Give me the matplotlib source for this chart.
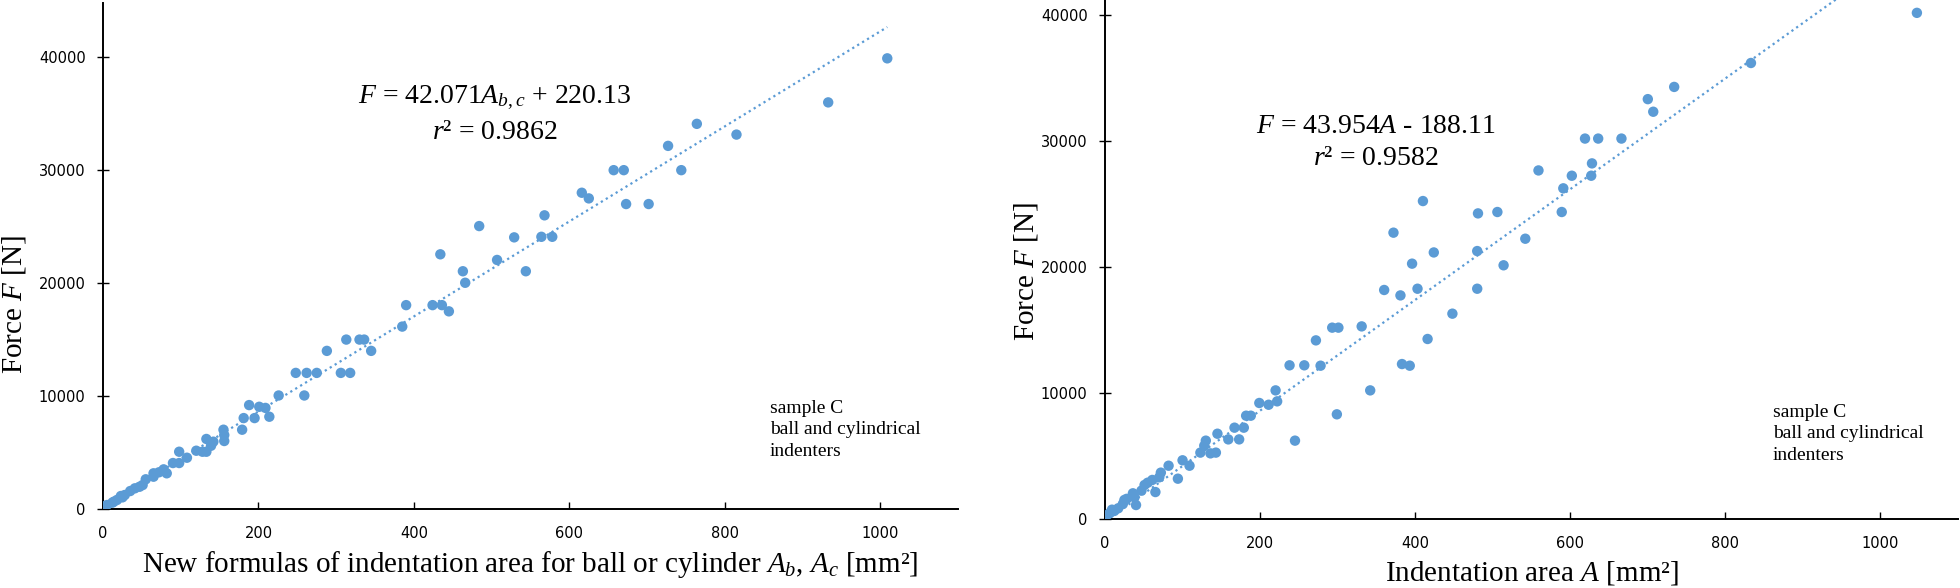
import numpy as np
import matplotlib
matplotlib.use("Agg")
import matplotlib.pyplot as plt

plt.rcParams['mathtext.fontset'] = 'custom'
plt.rcParams['mathtext.rm'] = 'Liberation Serif'
plt.rcParams['mathtext.it'] = 'Liberation Serif:italic'

BLUE = '#5B9BD5'

# left panel: new formulas of indentation area (A_b, A_c) vs force
left_x = [1009, 933, 764, 815, 727, 657, 670, 744, 616, 625, 673, 702, 568, 564, 578,
          434, 484, 463, 466, 507, 529, 544,
          390, 424, 436, 445, 385, 313, 330, 336, 288, 345, 248, 262, 275, 306, 318,
          226, 259, 188, 201, 209, 181, 195, 214, 179, 155, 156, 156, 133, 142, 139,
          133, 128, 120, 108, 98, 98, 90, 82, 78, 72, 65, 65, 55, 51, 47, 41, 35, 28,
          25, 18, 12, 5, 1, 14, 23]
left_y = [39900, 36000, 34100, 33150, 32150, 30000, 30000, 30000, 28000, 27500, 27000, 27000, 26000, 24100, 24100,
          22550, 25050, 21050, 20030, 22050, 24050, 21050,
          18050, 18050, 18050, 17500, 16150, 15000, 15000, 15000, 14000, 14000, 12050, 12050, 12050, 12050, 12050,
          10050, 10050, 9200, 9050, 8950, 8050, 8050, 8170, 7020, 7020, 6550, 6020, 6200, 5960, 5600,
          5070, 5070, 5160, 4540, 5070, 4070, 4070, 3160, 3510, 3250, 3160, 2860, 2630, 2120, 1970, 1830, 1590, 1240,
          1030, 800, 560, 350, 210, 650, 1150]
left_fit = (42.071, 220.13)

# right panel: indentation area A vs force
right_x = [1047, 833, 734, 700, 707, 619, 636, 666, 628, 602, 627, 591, 589, 559, 481, 506, 542, 480, 514, 480,
           410, 372, 424, 396, 360, 381, 403, 448, 416, 331, 293, 301, 272, 238, 257, 278, 383, 393, 342, 299,
           220, 245, 199, 211, 222, 182, 188, 167, 179, 173, 159, 145, 130, 128, 123, 136, 143, 109, 100, 94,
           82, 72, 70, 65, 61, 55, 51, 47, 40, 36, 38, 25, 23, 17, 12, 6, 2, 9, 28]
right_y = [40180, 36200, 34300, 33330, 32330, 30200, 30200, 30200, 28230, 27250, 27250, 26250, 24370, 27670, 24260, 24370, 22250, 21270, 20140, 18280,
           25240, 22730, 21160, 20270, 18180, 17750, 18280, 16300, 14290, 15290, 15190, 15190, 14180, 12200, 12200, 12170, 12300, 12170, 10210, 8310,
           10210, 6220, 9210, 9070, 9340, 8200, 8200, 7250, 7250, 6320, 6320, 6770, 6220, 5820, 5270, 5210, 5270, 4230, 4660, 3200,
           4230, 3680, 3310, 2140, 3100, 2880, 2700, 2250, 1110, 2040, 1720, 1510, 1190, 850, 640, 450, 290, 740, 1600]
right_fit = (43.954, -188.11)

note = "sample C\nball and cylindrical\nindenters"

fig = plt.figure(figsize=(19.6, 5.88), dpi=100)
ax1 = fig.add_axes([103 / 1960, 79 / 588, 855 / 1960, 506 / 588])
ax2 = fig.add_axes([1105 / 1960, 69 / 588, 853 / 1960, 519 / 588])


def style(ax, ymax):
    ax.set_xlim(0, 1100)
    ax.set_ylim(0, ymax)
    ax.set_xticks([0, 200, 400, 600, 800, 1000])
    ax.set_yticks([0, 10000, 20000, 30000, 40000])
    for s in ['top', 'right']:
        ax.spines[s].set_visible(False)
    for s in ['left', 'bottom']:
        ax.spines[s].set_linewidth(1.4)
    ax.tick_params(axis='x', direction='in', length=5, width=1, labelsize=10.5, pad=12)
    ax.tick_params(axis='y', direction='inout', length=9, width=1, labelsize=10.5, pad=8)


def draw(ax, xs, ys, fit, xmax):
    xs = np.array(xs)
    ys = np.array(ys)
    tx = np.linspace(0, xmax, 200)
    ax.plot(tx, fit[0] * tx + fit[1], color=BLUE, lw=1.6, linestyle=(0, (1, 1.6)),
            dash_capstyle='butt', zorder=2)
    ax.scatter(xs, ys, s=56, color=BLUE, edgecolors='none', zorder=3)


style(ax1, 44800)
style(ax2, 41200)
draw(ax1, left_x, left_y, left_fit, max(left_x))
draw(ax2, right_x, right_y, right_fit, max(right_x))

serif = 'Liberation Serif'
ax1.text(504, 36370, r"$F$ = 42.071$A_{b,c}$ + 220.13", ha='center', va='center',
         fontsize=20, family=serif)
ax1.text(504, 33360, r"$r$² = 0.9862", ha='center', va='center', fontsize=20, family=serif)
ax2.text(349, 31130, r"$F$ = 43.954$A$ - 188.11", ha='center', va='center',
         fontsize=20, family=serif)
ax2.text(349, 28630, r"$r$² = 0.9582", ha='center', va='center', fontsize=20, family=serif)

ax1.text(858, 7000, note, ha='left', va='center', fontsize=14, family=serif, linespacing=1.35)
ax2.text(861, 6750, note, ha='left', va='center', fontsize=14, family=serif, linespacing=1.35)

ax1.set_xlabel(r"New formulas of indentation area for ball or cylinder $A_b$, $A_c$ [mm²]",
               fontsize=21, family=serif, labelpad=6)
ax2.set_xlabel(r"Indentation area $A$ [mm²]", fontsize=21, family=serif, labelpad=6)
fig.text(14 / 1960, 1 - 305 / 588, r"Force $F$ [N]", rotation=90, ha='center', va='center',
         fontsize=21, family=serif)
fig.text(1026 / 1960, 1 - 272 / 588, r"Force $F$ [N]", rotation=90, ha='center', va='center',
         fontsize=21, family=serif)

fig.savefig("out.png", dpi=100)
